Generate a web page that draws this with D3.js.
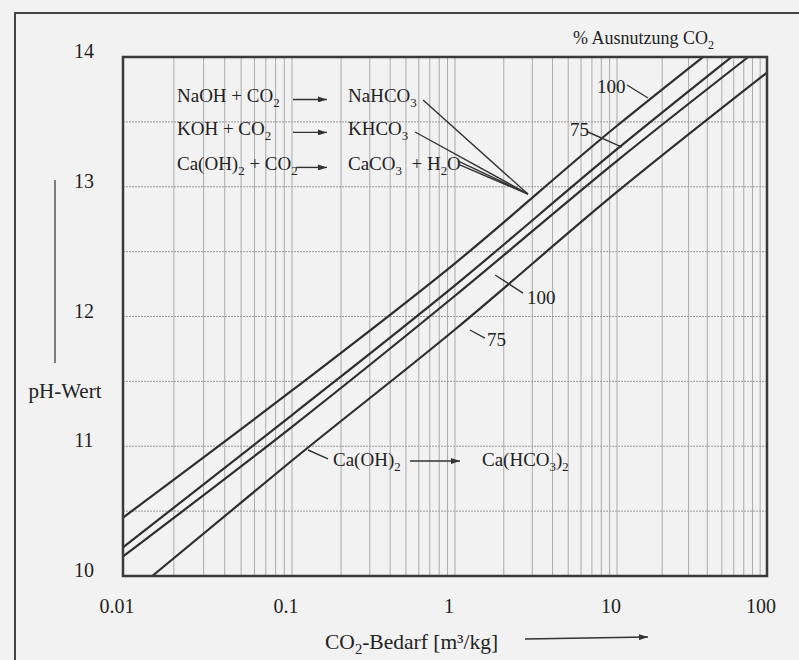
<!DOCTYPE html>
<html>
<head>
<meta charset="utf-8">
<script src="https://cdn.jsdelivr.net/npm/d3@7"></script>
<style>
body{margin:0;background:#f2f2f2;}
svg{display:block;font-family:"Liberation Serif","Times New Roman",serif;}
</style>
</head>
<body>
<div id="chart"></div>
<script>
// axis ticks
const xTicks = [0.01, 0.1, 1, 10, 100];
const xTickLabels = ['0.01', '0.1', '1', '10', '100'];
const yTicks = [10, 11, 12, 13, 14];
const yGrid = [10.5, 11, 11.5, 12, 12.5, 13, 13.5];

const naoh100 = [[0.01, 10.45], [0.1, 11.43], [1, 12.41], [10, 13.47], [37.4, 14]];
const naoh75 = [[0.01, 10.22], [0.1, 11.24], [1, 12.24], [10, 13.29], [58, 14]];
const caoh100 = [[0.01, 10.15], [0.1, 11.15], [1, 12.16], [10, 13.2], [75, 14]];
const caoh75 = [[0.0149, 10], [0.1, 10.89], [1, 11.9], [10, 12.96], [100, 13.88]];
const curves = [naoh100, naoh75, caoh100, caoh75];

// reaction legend (top left), in data units
const reactions = [
	{lhs: 'NaOH + CO_2', rhs: 'NaHCO_3', ph: 13.653, arrowFrom: 0.1014, leader: [0.637, 13.668]},
	{lhs: 'KOH + CO_2', rhs: 'KHCO_3', ph: 13.399, arrowFrom: 0.1014, leader: [0.569, 13.422]},
	{lhs: 'Ca(OH)_2 + CO_2', rhs: 'CaCO_3  + H_2O', ph: 13.129, arrowFrom: 0.106, leader: [1.07, 13.168]}
];
const reactionX = 0.02087, productX = 0.2206, arrowTo = 0.164;
const leaderPoint = [2.82, 12.944];

// % Ausnutzung labels
const curveLabels = [
	{text: '100', x: 7.53, ph: 13.72, from: [11.66, 13.784], to: [16.1, 13.684]},
	{text: '75', x: 5.13, ph: 13.391, from: [6.62, 13.422], to: [10.8, 13.306]},
	{text: '100', x: 2.78, ph: 12.096, from: [1.77, 12.32], to: [2.63, 12.18]},
	{text: '75', x: 1.576, ph: 11.773, from: [1.238, 11.896], to: [1.53, 11.834]}
];

const width = 799, height = 660;
const margin = {t: 57, r: 32, b: 84, l: 123};
const decadePx = [0, 169, 332, 494, 644]; //scan is slightly uneven per decade
const h = height - margin.t - margin.b;

const svg = d3.select('#chart').append('svg')
	.attr('width', width)
	.attr('height', height);

const defs = svg.append('defs');
defs.append('marker')
	.attr('id', 'arrow')
	.attr('markerUnits', 'userSpaceOnUse')
	.attr('markerWidth', 9).attr('markerHeight', 6)
	.attr('refX', 9).attr('refY', 3)
	.attr('orient', 'auto')
	.append('path').attr('d', 'M0,0 L9,3 L0,6 z').attr('fill', '#333');

// outer frame
svg.append('rect')
	.attr('x', 15).attr('y', 13)
	.attr('width', 800).attr('height', 652)
	.attr('fill', 'none').attr('stroke', '#444').attr('stroke-width', 2);

const scaleX = d3.scaleLog().domain(xTicks).range(decadePx.map(d => margin.l + d));
const scaleY = d3.scaleLinear().domain([10, 14]).range([margin.t + h, margin.t]);
const x0 = margin.l, x1 = margin.l + decadePx[4];

// grid
const vGrid = d3.range(-2, 2).flatMap(e => d3.range(1, 10).map(k => k * Math.pow(10, e)));
svg.append('g').selectAll('line')
	.data(vGrid.slice(1))
	.enter().append('line')
	.attr('x1', d => scaleX(d)).attr('x2', d => scaleX(d))
	.attr('y1', margin.t).attr('y2', margin.t + h)
	.attr('stroke', '#ababab').attr('stroke-width', 1);

svg.append('g').selectAll('line')
	.data(yGrid)
	.enter().append('line')
	.attr('x1', x0).attr('x2', x1)
	.attr('y1', d => scaleY(d)).attr('y2', d => scaleY(d))
	.attr('stroke', '#999').attr('stroke-width', 1)
	.attr('stroke-dasharray', '2,1');

// curves
const line = d3.line()
	.x(d => scaleX(d[0]))
	.y(d => scaleY(d[1]))
	.curve(d3.curveMonotoneX);
svg.append('g').selectAll('path')
	.data(curves)
	.enter().append('path')
	.attr('d', line)
	.attr('fill', 'none')
	.attr('stroke', '#2e2e2e')
	.attr('stroke-width', 2.2);

// plot frame
svg.append('rect')
	.attr('x', x0).attr('y', margin.t)
	.attr('width', x1 - x0).attr('height', h)
	.attr('fill', 'none').attr('stroke', '#3a3a3a').attr('stroke-width', 2.5);

// text with _2 subscripts
function rich(textSel, str){
	const parts = str.split(/(_\d)/).filter(p => p !== '');
	let shifted = false;
	parts.forEach(p => {
		if(p[0] === '_'){
			textSel.append('tspan').attr('dy', 5).attr('font-size', '0.68em').text(p.slice(1));
			shifted = true;
		}else{
			textSel.append('tspan').attr('dy', shifted ? -5 : 0).text(p);
			shifted = false;
		}
	});
	return textSel;
}

function label(str, x, y, size, anchor){
	const t = svg.append('text')
		.attr('x', x).attr('y', y)
		.attr('font-size', size)
		.attr('fill', '#222')
		.attr('text-anchor', anchor || 'start')
		.style('white-space', 'pre');
	return rich(t, str);
}

function seg(a, b, arrow){
	const l = svg.append('line')
		.attr('x1', scaleX(a[0])).attr('y1', scaleY(a[1]))
		.attr('x2', scaleX(b[0])).attr('y2', scaleY(b[1]))
		.attr('stroke', '#333').attr('stroke-width', 1.4);
	if(arrow) l.attr('marker-end', 'url(#arrow)');
	return l;
}

// tick labels
xTicks.forEach((v, i) => label(xTickLabels[i], scaleX(v) - 6, margin.t + h + 37, 20, 'middle'));
yTicks.forEach(v => label(String(v), 84, scaleY(v) + 1, 20, 'middle'));

// axis titles
label('pH-Wert', 65, 398, 21, 'middle');
svg.append('line')
	.attr('x1', 55).attr('x2', 55).attr('y1', 180).attr('y2', 363)
	.attr('stroke', '#555').attr('stroke-width', 1.5);
label('CO_2-Bedarf [m³/kg]', 325, 649, 21.5);
svg.append('line')
	.attr('x1', 525).attr('y1', 639).attr('x2', 648).attr('y2', 637)
	.attr('stroke', '#333').attr('stroke-width', 1.3)
	.attr('marker-end', 'url(#arrow)');
label('% Ausnutzung CO_2', 573, 44, 18);

// reaction legend
reactions.forEach(r => {
	label(r.lhs, scaleX(reactionX), scaleY(r.ph), 19);
	seg([r.arrowFrom, r.ph + 0.02], [arrowTo, r.ph + 0.02], true);
	label(r.rhs, scaleX(productX), scaleY(r.ph), 19);
	seg(r.leader, leaderPoint);
});
seg([1.04, 13.2], leaderPoint);

// curve labels
curveLabels.forEach(c => {
	label(c.text, scaleX(c.x), scaleY(c.ph), 19);
	seg(c.from, c.to);
});

// Ca(OH)2 -> Ca(HCO3)2
label('Ca(OH)_2', scaleX(0.1785), scaleY(10.848), 19);
seg([0.1254, 10.971], [0.1663, 10.902]);
seg([0.53, 10.886], [1.074, 10.886], true);
label('Ca(HCO_3)_2', scaleX(1.468), scaleY(10.848), 19);
</script>
</body>
</html>
